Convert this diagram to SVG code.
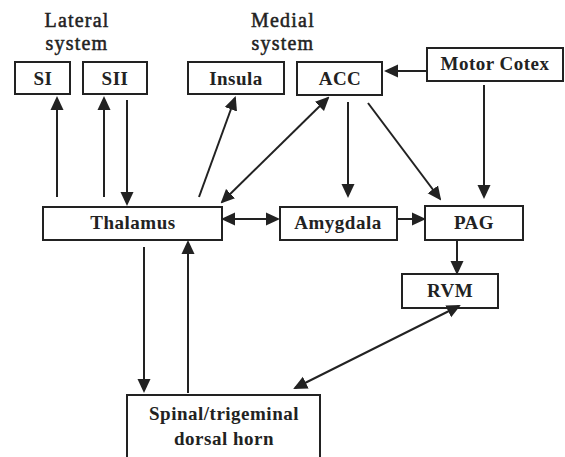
<svg xmlns="http://www.w3.org/2000/svg" width="565" height="457" viewBox="0 0 565 457">
<style>
.box{fill:#fff;stroke:#222;stroke-width:2}
.lbl{font-family:'Liberation Serif','DejaVu Serif','Times New Roman',serif;font-weight:bold;font-size:19px;letter-spacing:0.5px;fill:#222;text-anchor:middle}
.hdr{font-family:'Liberation Serif','DejaVu Serif','Times New Roman',serif;font-size:20px;letter-spacing:1.2px;fill:#222;stroke:#222;stroke-width:0.5;text-anchor:middle}
.c{stroke:#222;stroke-width:2;fill:none}
</style>
<defs>
<marker id="ah" markerUnits="userSpaceOnUse" markerWidth="14" markerHeight="14" refX="12" refY="6.5" orient="auto-start-reverse" viewBox="0 0 14 13">
<path d="M0,0 L14,6.5 L0,13 z" fill="#222"/>
</marker>
</defs>
<rect width="565" height="457" fill="#fff"/>
<g id="headers">
<text class="hdr" x="77" y="27">Lateral</text>
<text class="hdr" x="77" y="50">system</text>
<text class="hdr" x="283" y="27">Medial</text>
<text class="hdr" x="283" y="50">system</text>
</g>
<g id="SI"><rect class="box" x="15" y="62" width="55" height="32"/><text class="lbl" x="43" y="85">SI</text></g>
<g id="SII"><rect class="box" x="83" y="62" width="64" height="32"/><text class="lbl" x="115" y="85">SII</text></g>
<g id="Insula"><rect class="box" x="188" y="62" width="96" height="32"/><text class="lbl" x="236" y="85">Insula</text></g>
<g id="ACC"><rect class="box" x="297" y="62" width="85" height="33"/><text class="lbl" x="340" y="85">ACC</text></g>
<g id="MotorCotex"><rect class="box" x="427" y="48" width="136" height="33"/><text class="lbl" x="495" y="70">Motor Cotex</text></g>
<g id="Thalamus"><rect class="box" x="43" y="207" width="179" height="33"/><text class="lbl" x="133" y="229">Thalamus</text></g>
<g id="Amygdala"><rect class="box" x="280" y="207" width="117" height="33"/><text class="lbl" x="338" y="229">Amygdala</text></g>
<g id="PAG"><rect class="box" x="425" y="206" width="98" height="34"/><text class="lbl" x="474" y="229">PAG</text></g>
<g id="RVM"><rect class="box" x="402" y="274" width="96" height="34"/><text class="lbl" x="450" y="297">RVM</text></g>
<g id="Spinal"><rect class="box" x="127" y="395" width="193" height="66"/><text class="lbl" x="224" y="420">Spinal/trigeminal</text><text class="lbl" x="224" y="445">dorsal horn</text></g>
<g id="connectors">
<line class="c" x1="57" y1="197" x2="57" y2="98" marker-end="url(#ah)"/>
<line class="c" x1="104" y1="197" x2="104" y2="98" marker-end="url(#ah)"/>
<line class="c" x1="127" y1="100" x2="127" y2="204" marker-end="url(#ah)"/>
<line class="c" x1="199" y1="197" x2="235" y2="98" marker-end="url(#ah)"/>
<line class="c" x1="222" y1="202" x2="328" y2="98" marker-start="url(#ah)" marker-end="url(#ah)"/>
<line class="c" x1="427" y1="71" x2="386" y2="71" marker-end="url(#ah)"/>
<line class="c" x1="348" y1="102" x2="348" y2="196" marker-end="url(#ah)"/>
<line class="c" x1="368" y1="103" x2="440" y2="199" marker-end="url(#ah)"/>
<line class="c" x1="484" y1="85" x2="484" y2="197" marker-end="url(#ah)"/>
<line class="c" x1="223" y1="219" x2="278" y2="219" marker-start="url(#ah)" marker-end="url(#ah)"/>
<line class="c" x1="397" y1="219" x2="424" y2="219" marker-end="url(#ah)"/>
<line class="c" x1="457" y1="241" x2="457" y2="273" marker-end="url(#ah)"/>
<line class="c" x1="459" y1="306" x2="295" y2="388" marker-start="url(#ah)" marker-end="url(#ah)"/>
<line class="c" x1="144" y1="247" x2="144" y2="391" marker-end="url(#ah)"/>
<line class="c" x1="188" y1="393" x2="188" y2="242" marker-end="url(#ah)"/>
</g>
</svg>
